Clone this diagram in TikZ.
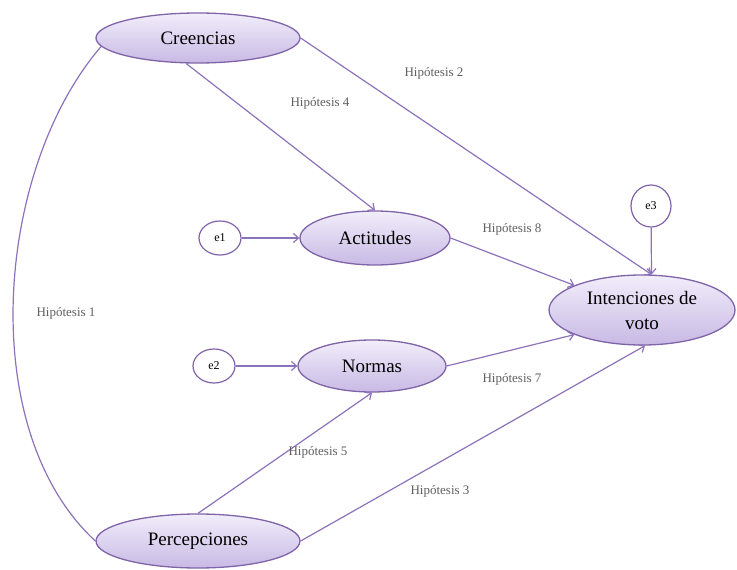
\documentclass[tikz,border=0pt]{standalone}
\usepackage{fontspec}
\setmainfont{Liberation Serif}
\usepackage{tikz}
\usetikzlibrary{arrows.meta,shapes.geometric}
\tikzset{>={Straight Barb[length=5pt,width=9pt]}}
\definecolor{linecol}{RGB}{140,114,186}
\definecolor{bordcol}{RGB}{128,100,168}
\definecolor{topcol}{RGB}{242,238,251}
\definecolor{botcol}{RGB}{200,185,228}
\definecolor{hypcol}{RGB}{95,95,95}
\tikzstyle{latent}=[ellipse,draw=bordcol,line width=1.3pt,top color=topcol,bottom color=botcol,inner sep=0pt,align=center,font=\fontsize{19}{25}\selectfont]
\tikzstyle{error}=[ellipse,draw=bordcol,line width=1.2pt,fill=white,inner sep=0pt,minimum width=42pt,minimum height=34pt,font=\fontsize{12}{14}\selectfont]
\tikzstyle{hyp}=[text=hypcol,inner sep=0pt,font=\fontsize{13}{15}\selectfont]
\tikzstyle{link}=[draw=linecol,line width=1.2pt]

\begin{document}
\begin{tikzpicture}[x=1pt,y=-1pt]
  \useasboundingbox (0,0) rectangle (737,570);
  % constructs
  \node[latent,minimum width=204pt,minimum height=50pt] (cre) at (198,38) {Creencias};
  \node[latent,minimum width=150pt,minimum height=54pt] (act) at (375,238) {Actitudes};
  \node[latent,minimum width=148pt,minimum height=52pt] (nor) at (372,366) {Normas};
  \node[latent,minimum width=204pt,minimum height=54pt] (per) at (198,541) {Percepciones};
  \node[latent,minimum width=186pt,minimum height=70pt] (int) at (642,310) {Intenciones de\\voto};
  % errors
  \node[error] (e1) at (220,238) {e1};
  \node[error] (e2) at (214,366) {e2};
  \node[error,minimum width=40pt,minimum height=42pt] (e3) at (651,206) {e3};
  % paths
  \draw[link] (cre.185) .. controls (-5,170) and (-25,430) .. (per.west);
  \draw[link,->] (cre.east) -- (int.75);
  \draw[link,->] (cre.245) -- (act.north);
  \draw[link,->] (e1) -- (act);
  \draw[link,->] (e2) -- (nor);
  \draw[link,->] (e3) -- (int.75);
  \draw[link,->] (act.east) -- (int.160);
  \draw[link,->] (nor.east) -- (int.200);
  \draw[link,->] (per.north) -- (nor.south);
  \draw[link,->] (per.east) -- (int.275);
  % hypotheses
  \node[hyp] (h1) at (66,313) {Hipótesis 1};
  \node[hyp] (h2) at (434,73) {Hipótesis 2};
  \node[hyp] (h3) at (440,491) {Hipótesis 3};
  \node[hyp] (h4) at (320,103) {Hipótesis 4};
  \node[hyp] (h5) at (318,452) {Hipótesis 5};
  \node[hyp] (h7) at (512,379) {Hipótesis 7};
  \node[hyp] (h8) at (512,229) {Hipótesis 8};
\end{tikzpicture}
\end{document}
